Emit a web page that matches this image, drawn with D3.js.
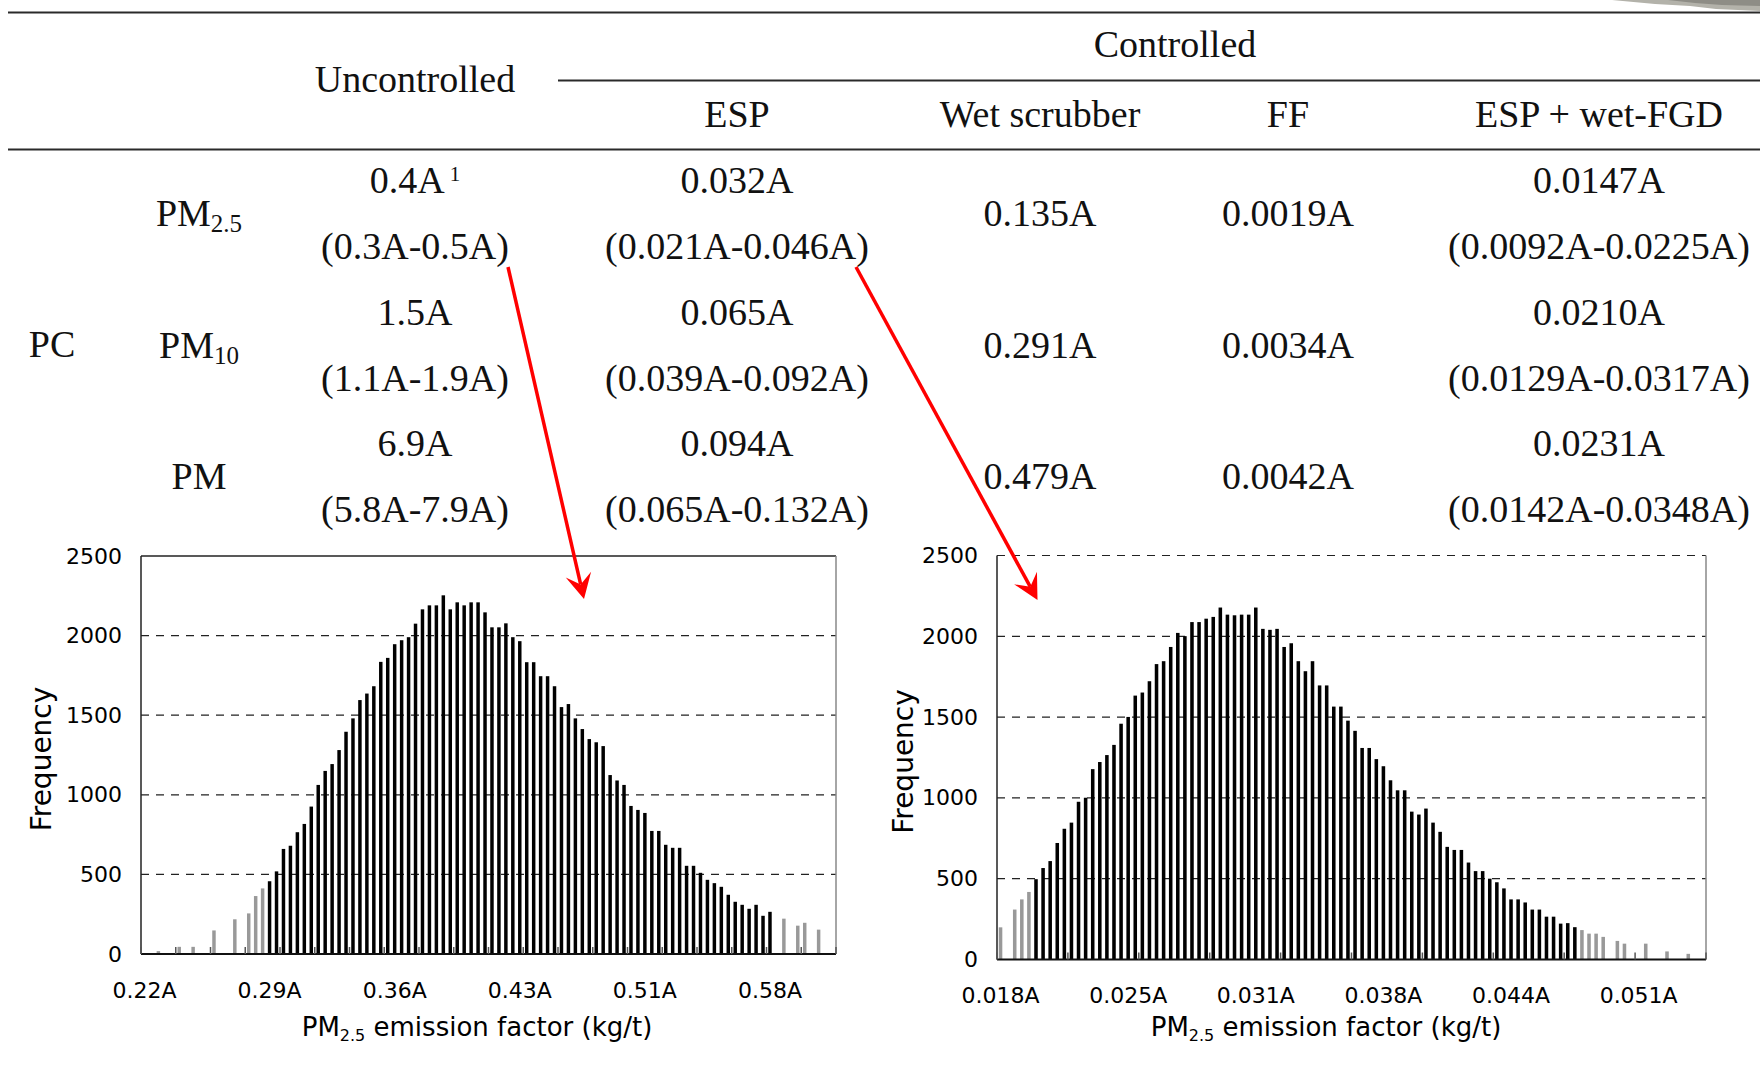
<!DOCTYPE html>
<html>
<head>
<meta charset="utf-8">
<script src="https://cdn.jsdelivr.net/npm/d3@7"></script>
<style>
  body { margin: 0; background: #fff; }
  svg { display: block; }
</style>
</head>
<body>
<svg id="fig" width="1760" height="1065"></svg>
<script>
// ---- table values ----
const columns = ['Uncontrolled', 'ESP', 'Wet scrubber', 'FF', 'ESP + wet-FGD'];
const groupLabel = 'Controlled';
const sourceLabel = 'PC';
const pollutant = ['PM', 'PM', 'PM'];
const pollutantSub = ['2.5', '10', ''];
const uncontrolledMean = ['0.4A', '1.5A', '6.9A'];
const uncontrolledRange = ['(0.3A-0.5A)', '(1.1A-1.9A)', '(5.8A-7.9A)'];
const espMean = ['0.032A', '0.065A', '0.094A'];
const espRange = ['(0.021A-0.046A)', '(0.039A-0.092A)', '(0.065A-0.132A)'];
const wetScrubber = ['0.135A', '0.291A', '0.479A'];
const fabricFilter = ['0.0019A', '0.0034A', '0.0042A'];
const espFgdMean = ['0.0147A', '0.0210A', '0.0231A'];
const espFgdRange = ['(0.0092A-0.0225A)', '(0.0129A-0.0317A)', '(0.0142A-0.0348A)'];

// ---- histogram values (frequency per bin, 100 bins) ----
const uncontrolledFreq = [
  0, 0, 18, 0, 0, 45, 0, 45, 0, 0,
  148, 0, 0, 218, 0, 255, 364, 412, 457, 519,
  660, 680, 765, 817, 926, 1062, 1150, 1193, 1281, 1396,
  1480, 1595, 1636, 1682, 1835, 1860, 1946, 1971, 1990, 2075,
  2165, 2190, 2190, 2253, 2165, 2209, 2190, 2209, 2209, 2146,
  2052, 2052, 2077, 1990, 1965, 1833, 1833, 1745, 1745, 1682,
  1551, 1570, 1480, 1413, 1350, 1330, 1306, 1124, 1090, 1062,
  930, 905, 886, 773, 773, 686, 667, 667, 554, 554,
  510, 466, 445, 422, 372, 328, 309, 284, 309, 240,
  265, 0, 222, 0, 178, 196, 0, 153, 0, 0
];
const espFreq = [
  199, 0, 309, 372, 418, 497, 566, 609, 721, 809,
  847, 976, 1001, 1178, 1222, 1265, 1328, 1459, 1501, 1633,
  1652, 1722, 1828, 1846, 1934, 2021, 2001, 2088, 2088, 2109,
  2120, 2178, 2134, 2130, 2134, 2134, 2178, 2046, 2040, 2046,
  1934, 1957, 1846, 1784, 1846, 1696, 1696, 1565, 1565, 1478,
  1415, 1309, 1309, 1240, 1196, 1109, 1047, 1047, 915, 897,
  934, 847, 790, 697, 678, 678, 600, 547, 547, 500,
  478, 440, 372, 372, 353, 309, 309, 265, 265, 222,
  225, 200, 182, 160, 160, 140, 0, 115, 98, 0,
  0, 98, 0, 0, 50, 0, 0, 35, 0, 0
];
// bins drawn in black (the rest are grey tails)
const uncontrolledCore = [18, 90];
const espCore = [5, 81];

const uncontrolledTicks = ['0.22A', '0.29A', '0.36A', '0.43A', '0.51A', '0.58A'];
const espTicks = ['0.018A', '0.025A', '0.031A', '0.038A', '0.044A', '0.051A'];
const labelEvery = 18;
const freqTicks = [0, 500, 1000, 1500, 2000, 2500];

const svg = d3.select('#fig');
const serif = "'Liberation Serif', 'Times New Roman', serif";
const sans = "'DejaVu Sans', Verdana, sans-serif";

svg.append('rect').attr('width', 1760).attr('height', 1065).attr('fill', '#fff');

// scrap of photo at the top right corner
svg.append('path')
   .attr('d', 'M1612,0 L1760,0 L1760,11 L1716,9 L1690,6 L1655,4 Z')
   .attr('fill', '#b3b2aa');
svg.append('path')
   .attr('d', 'M1668,0 L1760,0 L1760,6 L1722,5 L1695,3 Z')
   .attr('fill', '#8e8d86');

// ---------------- table ----------------
const colX = [415, 737, 1040, 1288, 1599];
const rowTop = 193, rowStep = 131.5;

function rule(x1, x2, y) {
  svg.append('line')
     .attr('x1', x1).attr('x2', x2)
     .attr('y1', y).attr('y2', y)
     .attr('stroke', '#2a2a2a')
     .attr('stroke-width', 2);
}
rule(8, 1760, 12.5);
rule(558, 1760, 80.5);
rule(8, 1760, 149.5);

function cell(x, y, str) {
  return svg.append('text')
     .attr('x', x).attr('y', y)
     .attr('text-anchor', 'middle')
     .attr('font-family', serif)
     .attr('font-size', 38)
     .attr('fill', '#111')
     .text(str);
}

cell(1175, 57, groupLabel);
cell(colX[0], 92, columns[0]);
columns.slice(1).forEach((c, i) => cell(colX[i + 1], 127, c));

cell(52, 357, sourceLabel);

pollutant.forEach((p, i) => {
  const y0 = rowTop + rowStep * i;
  const t = cell(199, y0 + 33, p);
  if (pollutantSub[i]) {
    t.append('tspan').attr('font-size', 25).attr('dy', 6).text(pollutantSub[i]);
  }

  const m = cell(colX[0], y0, uncontrolledMean[i]);
  if (i === 0) {
    m.append('tspan').attr('font-size', 21).attr('dy', -12).text(' 1');
  }
  cell(colX[0], y0 + 66, uncontrolledRange[i]);
  cell(colX[1], y0, espMean[i]);
  cell(colX[1], y0 + 66, espRange[i]);
  cell(colX[2], y0 + 33, wetScrubber[i]);
  cell(colX[3], y0 + 33, fabricFilter[i]);
  cell(colX[4], y0, espFgdMean[i]);
  cell(colX[4], y0 + 66, espFgdRange[i]);
});

// ---------------- histograms ----------------
function histogram(cfg) {
  const n = cfg.freq.length;
  const x = d3.scaleBand()
              .domain(d3.range(n))
              .range([cfg.left, cfg.right])
              .paddingInner(0.5)
              .paddingOuter(0.25);

  const y = d3.scaleLinear()
              .domain([0, 2500])
              .range([cfg.bottom, cfg.top]);

  const g = svg.append('g');

  // dashed grid
  g.selectAll('.grid')
   .data(cfg.dashedTop ? freqTicks.slice(1) : freqTicks.slice(1, -1))
   .enter()
   .append('line')
   .attr('x1', cfg.left).attr('x2', cfg.right)
   .attr('y1', d => y(d)).attr('y2', d => y(d))
   .attr('stroke', '#222')
   .attr('stroke-width', 1.2)
   .attr('stroke-dasharray', '8,7');

  // bars
  g.selectAll('.bar')
   .data(cfg.freq)
   .enter()
   .append('rect')
   .attr('x', (d, i) => x(i))
   .attr('y', d => y(d))
   .attr('width', x.bandwidth())
   .attr('height', d => y(0) - y(d))
   .attr('fill', (d, i) => (i >= cfg.core[0] && i <= cfg.core[1]) ? '#000' : '#999');

  // frame
  const step = x.step();
  g.append('line')
   .attr('x1', cfg.left).attr('x2', cfg.left)
   .attr('y1', cfg.top).attr('y2', cfg.bottom)
   .attr('stroke', '#222').attr('stroke-width', 1.5);
  if (!cfg.dashedTop) {
    g.append('line')
     .attr('x1', cfg.left).attr('x2', cfg.right)
     .attr('y1', cfg.top).attr('y2', cfg.top)
     .attr('stroke', '#222').attr('stroke-width', 1.5);
  }
  g.append('line')
   .attr('x1', cfg.right).attr('x2', cfg.right)
   .attr('y1', cfg.top).attr('y2', cfg.bottom)
   .attr('stroke', '#888').attr('stroke-width', 1.5);
  g.append('line')
   .attr('x1', cfg.left).attr('x2', cfg.right)
   .attr('y1', cfg.bottom).attr('y2', cfg.bottom)
   .attr('stroke', '#111').attr('stroke-width', 2);

  // small inside tick marks between categories
  g.selectAll('.tick-mark')
   .data(d3.range(0, n + 1, cfg.tickEvery))
   .enter()
   .append('line')
   .attr('x1', d => cfg.left + d * step)
   .attr('x2', d => cfg.left + d * step)
   .attr('y1', cfg.bottom)
   .attr('y2', cfg.bottom - 7)
   .attr('stroke', '#555')
   .attr('stroke-width', 1.5);

  // y axis labels
  const yAxis = d3.axisLeft(y)
                  .tickValues(freqTicks)
                  .tickFormat(d3.format('d'))
                  .tickSize(0)
                  .tickPadding(19);
  const ya = g.append('g')
              .attr('transform', `translate(${cfg.left}, 0)`)
              .call(yAxis);
  ya.select('.domain').remove();
  ya.selectAll('text')
    .attr('font-family', sans)
    .attr('font-size', 22)
    .attr('fill', '#000');

  // x axis labels
  const xAxis = d3.axisBottom(x)
                  .tickValues(cfg.ticks.map((t, i) => i * labelEvery))
                  .tickFormat((d, i) => cfg.ticks[i])
                  .tickSize(0)
                  .tickPadding(28);
  const xa = g.append('g')
              .attr('transform', `translate(0, ${cfg.bottom})`)
              .call(xAxis);
  xa.select('.domain').remove();
  xa.selectAll('text')
    .attr('font-family', sans)
    .attr('font-size', 22)
    .attr('fill', '#000');

  // axis titles
  g.append('text')
   .attr('transform', `translate(${cfg.yTitleX}, ${(cfg.top + cfg.bottom) / 2 + 4}) rotate(-90)`)
   .attr('text-anchor', 'middle')
   .attr('dominant-baseline', 'central')
   .attr('font-family', sans)
   .attr('font-size', 28)
   .text('Frequency');

  const title = g.append('text')
                 .attr('x', cfg.xTitleX)
                 .attr('y', 1036)
                 .attr('text-anchor', 'middle')
                 .attr('font-family', sans)
                 .attr('font-size', 26);
  title.append('tspan').text('PM');
  title.append('tspan').attr('font-size', 16).attr('dy', 5).text('2.5');
  title.append('tspan').attr('dy', -5).text(' emission factor (kg/t)');
}

histogram({
  freq: uncontrolledFreq, core: uncontrolledCore, ticks: uncontrolledTicks,
  left: 141, right: 836, top: 556, bottom: 954,
  tickEvery: 5, dashedTop: false, yTitleX: 41, xTitleX: 477
});

histogram({
  freq: espFreq, core: espCore, ticks: espTicks,
  left: 997, right: 1706, top: 555.5, bottom: 959.5,
  tickEvery: 10, dashedTop: true, yTitleX: 903, xTitleX: 1326
});

// ---------------- red arrows from table cells to the plots ----------------
const arrows = [
  { from: [508, 267], to: [584, 599] },
  { from: [856, 267], to: [1037.5, 600] }
];

arrows.forEach(a => {
  const dx = a.to[0] - a.from[0], dy = a.to[1] - a.from[1];
  const len = Math.hypot(dx, dy);
  const ux = dx / len, uy = dy / len, nx = -uy, ny = ux;
  const L = 25, W = 13;
  const back = [a.to[0] - ux * L, a.to[1] - uy * L];
  const notch = [a.to[0] - ux * L * 0.6, a.to[1] - uy * L * 0.6];

  svg.append('line')
     .attr('x1', a.from[0]).attr('y1', a.from[1])
     .attr('x2', notch[0]).attr('y2', notch[1])
     .attr('stroke', '#ff0000')
     .attr('stroke-width', 3.5);

  svg.append('path')
     .attr('d', `M${a.to[0]},${a.to[1]} L${back[0] + nx * W},${back[1] + ny * W} L${notch[0]},${notch[1]} L${back[0] - nx * W},${back[1] - ny * W} Z`)
     .attr('fill', '#ff0000');
});
</script>
</body>
</html>
